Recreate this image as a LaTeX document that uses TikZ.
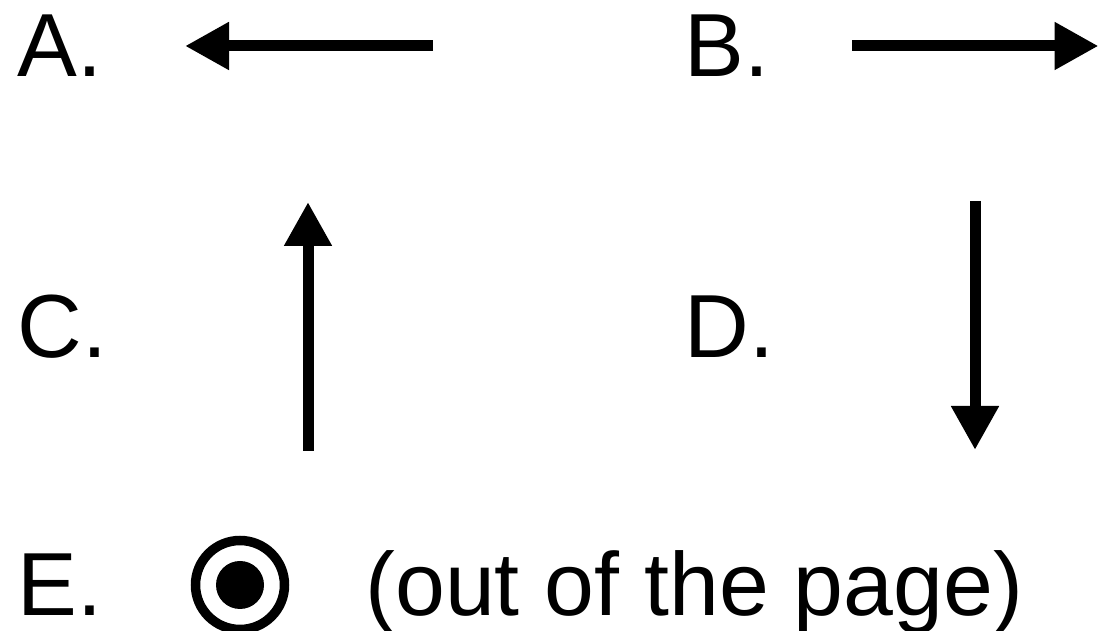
\documentclass[tikz,border=0pt]{standalone}
\usepackage{fontspec}
\setmainfont{Liberation Sans}
\usetikzlibrary{arrows.meta}

\begin{document}
\begin{tikzpicture}[
        lbl/.style={anchor=base west, inner sep=0pt, font=\fontsize{51}{60}\selectfont},
        vec/.style={-{Triangle[length=8.8mm, width=9mm]}, line width=2.2mm}
    ]
\useasboundingbox (0, 0) rectangle (22, 12.62);

\node[lbl] (optA) at (0.34, 11.08) {A.};
        \node[lbl] (optB) at (13.68, 11.08) {B.};
        \node[lbl] (optC) at (0.34, 5.46) {C.};
        \node[lbl] (optD) at (13.68, 5.46) {D.};
        \node[lbl] (optE) at (0.34, 0.30) {E.};
        \node[lbl] (outtext) at (7.30, 0.30) {(out of the page)};

        \coordinate (leftfrom) at (8.66, 11.70);
        \coordinate (leftto) at (3.70, 11.70);
        \coordinate (rightfrom) at (17.04, 11.70);
        \coordinate (rightto) at (21.97, 11.70);
        \coordinate (upfrom) at (6.16, 3.60);
        \coordinate (upto) at (6.16, 8.58);
        \coordinate (downfrom) at (19.50, 8.60);
        \coordinate (downto) at (19.50, 3.62);

        \node[draw, circle, line width=1.9mm, minimum size=1.78cm, inner sep=0pt] (outring) at (4.80, 0.92) {};
        \node[fill, circle, minimum size=0.96cm, inner sep=0pt] (outdot) at (outring.center) {};

\draw[vec] (leftfrom) -- (leftto);
        \draw[vec] (rightfrom) -- (rightto);
        \draw[vec] (upfrom) -- (upto);
        \draw[vec] (downfrom) -- (downto);

    \end{tikzpicture}
\end{document}
